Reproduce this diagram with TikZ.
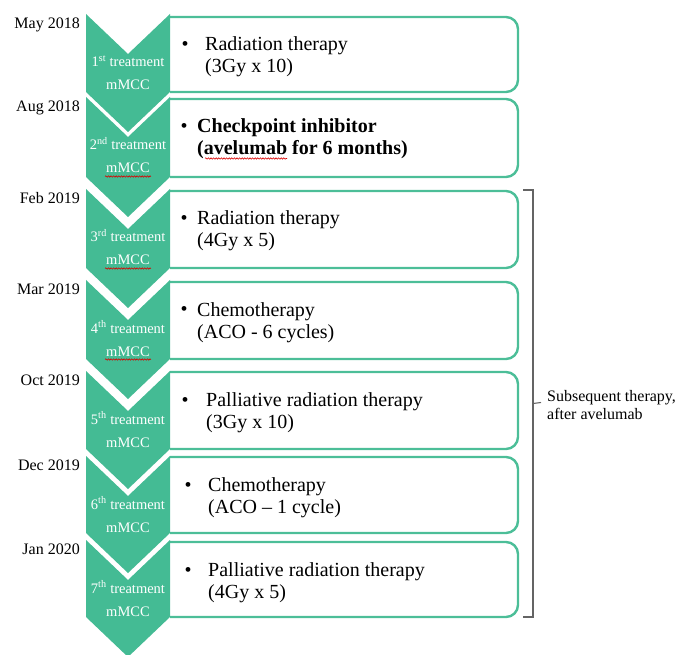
\documentclass[tikz,border=0pt]{standalone}
\usepackage{fontspec}
\setmainfont{Liberation Serif}
\usetikzlibrary{decorations.pathmorphing}
\definecolor{chev}{RGB}{68,187,148}
\definecolor{boxline}{RGB}{76,190,152}
\definecolor{brk}{RGB}{100,100,100}
\tikzset{
  chevron/.style={fill=chev,draw=none},
  tbox/.style={draw=boxline,line width=2.4pt,rounded corners=12pt},
  datelabel/.style={anchor=base east,inner sep=0pt,font=\fontsize{16}{18}\selectfont},
  chevtext/.style={anchor=base,inner sep=0pt,text=white,font=\fontsize{14.5}{16}\selectfont},
  boxtext/.style={anchor=base west,inner sep=0pt,align=left,font=\fontsize{20}{22}\selectfont},
  bullet/.style={anchor=base west,inner sep=0pt,font=\fontsize{20}{22}\selectfont},
  squiggle/.style={draw=red!85!black,line width=0.6pt,decorate,decoration={snake,amplitude=0.7pt,segment length=2.6pt}}
}
\begin{document}
\begin{tikzpicture}[x=1pt,y=-1pt]
\useasboundingbox (0,0) rectangle (683,655);
% k / chevron top / side bottom / box top / date / ordinal / bullet x / text x / text
\foreach \k/\t/\b/\bt/\dt/\ord/\bx/\tx/\txt in {
  1/14/92/17/May 2018/st/181.5/205/{Radiation therapy\\(3Gy x 10)},
  2/97/177/99/Aug 2018/nd/180.5/197/{\bfseries Checkpoint inhibitor\\\bfseries (avelumab for 6 months)},
  3/189/268/191/Feb 2019/rd/180.5/197/{Radiation therapy\\(4Gy x 5)},
  4/280/359/282/Mar 2019/th/180.5/197/{Chemotherapy\\(ACO - 6 cycles)},
  5/371/449/372/Oct 2019/th/181.5/206/{Palliative radiation therapy\\(3Gy x 10)},
  6/456/533/457/Dec 2019/th/184.5/208/{Chemotherapy\\(ACO -- 1 cycle)},
  7/540/617/542/Jan 2020/th/184.5/208/{Palliative radiation therapy\\(4Gy x 5)}}
{
  % box (left side hidden behind chevron)
  \coordinate (btl\k) at (170,\bt);
  \coordinate (bbl\k) at (170,\b);
  \draw[tbox] (btl\k) -- (518,\bt) -- (518,\b) -- (bbl\k);
  % chevron
  \fill[chevron] (86,\t) -- (128,\t+40) -- (170,\t) -- (170,\b) -- (128,\b+40) -- (86,\b) -- cycle;
  \node[chevtext] (c\k a) at (128,\t+53) {\k\textsuperscript{\ord} treatment};
  \node[chevtext] (c\k b) at (128,\t+76) {mMCC};
  \node[datelabel] (d\k) at (80,\t+14.5) {\dt};
  \node[bullet] (bu\k) at (\bx,\bt+34) {•};
  \node[boxtext] (t\k) at (\tx,\bt+56) {\txt};
}
% spell-check squiggles
\foreach \k in {2,3,4}{
  \draw[squiggle] ([xshift=-1pt,yshift=-3.5pt]c\k b.base west) -- ([xshift=1pt,yshift=-3.5pt]c\k b.base east);
}
\coordinate (sqA) at (205,158.5);
\coordinate (sqB) at (287,158.5);
\draw[squiggle] (sqA) -- (sqB);
% bracket
\coordinate (brT) at (523,190);
\coordinate (brB) at (523,617);
\coordinate (brM) at (533,403.5);
\coordinate (brTick) at (541,402.5);
\draw[brk,line width=1.1pt] (brT) -- (533,190) -- (533,617) -- (brB);
\draw[brk,line width=1.1pt] (brM) -- (brTick);
\node[anchor=base west,inner sep=0pt,align=left,font=\fontsize{16}{18}\selectfont] (sub) at (547,419) {Subsequent therapy,\\after avelumab};
\end{tikzpicture}
\end{document}
